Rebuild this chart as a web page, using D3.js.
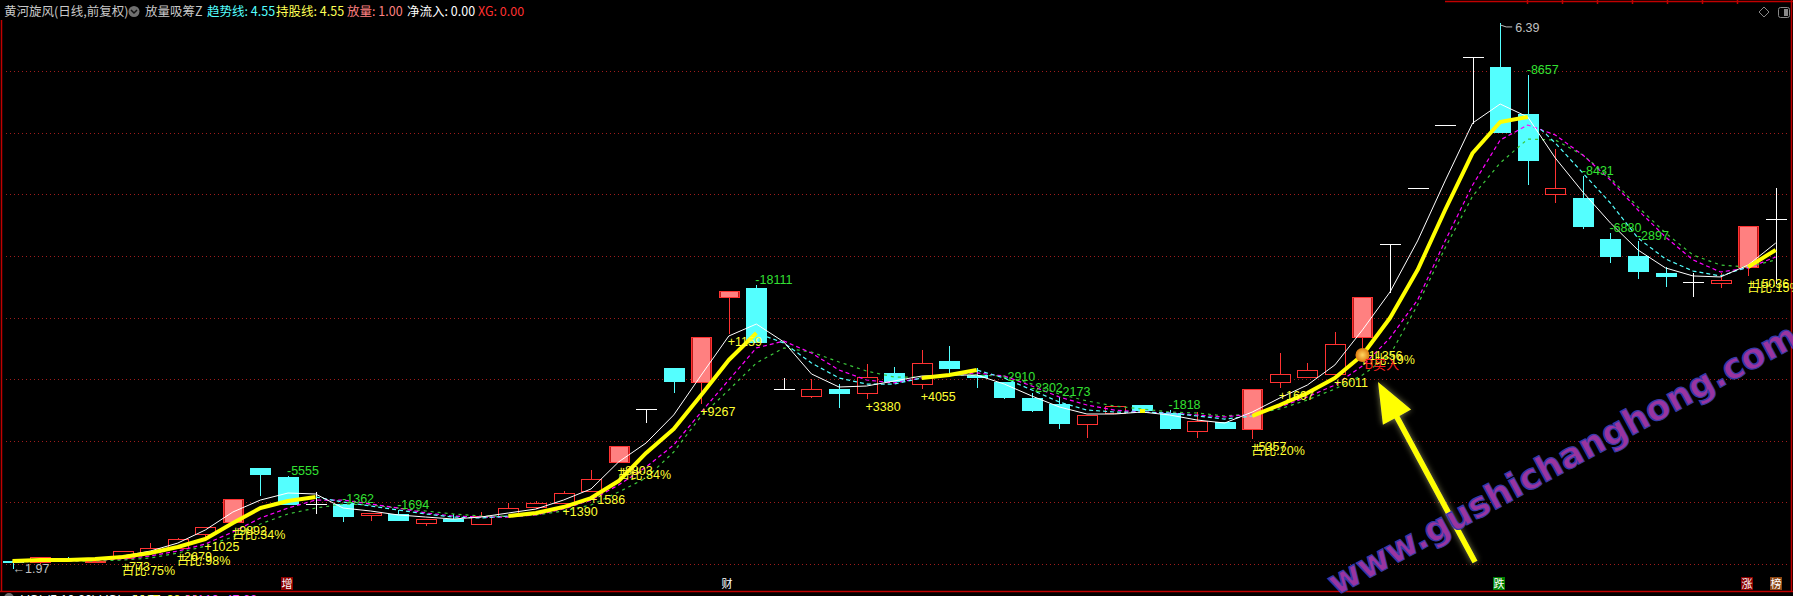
<!DOCTYPE html>
<html><head><meta charset="utf-8">
<script src="https://cdn.jsdelivr.net/npm/d3@7"></script>
<style>html,body{margin:0;padding:0;background:#000;overflow:hidden}</style>
</head><body><svg id="c" width="1793" height="596"></svg>
<script>
// ---------- data ----------
const opens  = [2.024,2.016,2.052,2.020,2.049,2.097,2.130,2.243,2.341,2.779,2.706,2.487,2.487,2.398,2.406,2.333,2.365,2.325,2.389,2.462,2.495,2.592,2.828,3.258,3.590,3.477,4.166,4.239,3.420,3.363,3.420,3.387,3.550,3.460,3.647,3.533,3.477,3.347,3.298,3.136,3.225,3.290,3.225,3.079,3.152,3.095,3.477,3.517,3.542,3.842,4.596,5.051,5.562,6.114,6.032,5.651,5.002,4.970,4.637,4.499,4.361,4.288,4.280,4.410,4.799];
const highs  = [2.030,2.060,2.055,2.030,2.105,2.170,2.210,2.300,2.527,2.779,2.710,2.584,2.487,2.414,2.438,2.365,2.406,2.422,2.495,2.511,2.592,2.763,2.957,3.258,3.590,3.842,4.215,4.264,3.509,3.501,3.460,3.623,3.598,3.736,3.769,3.590,3.477,3.387,3.355,3.209,3.282,3.290,3.250,3.233,3.152,3.420,3.712,3.631,3.882,4.166,4.596,5.051,5.562,6.114,6.390,5.968,5.367,5.148,4.686,4.621,4.410,4.361,4.361,4.742,5.051];
const lows   = [1.970,2.010,2.045,2.020,2.049,2.097,2.130,2.210,2.341,2.560,2.487,2.414,2.349,2.357,2.357,2.316,2.349,2.325,2.389,2.454,2.495,2.592,2.828,3.152,3.396,3.306,3.874,3.801,3.420,3.355,3.274,3.347,3.485,3.428,3.558,3.436,3.347,3.241,3.103,3.030,3.225,3.250,3.095,3.030,3.103,3.022,3.436,3.517,3.542,3.761,4.207,5.051,5.562,5.578,5.505,5.083,4.937,4.726,4.450,4.320,4.256,4.174,4.248,4.345,4.280];
const closes = [2.016,2.057,2.048,2.028,2.105,2.130,2.203,2.300,2.527,2.730,2.487,2.487,2.389,2.414,2.357,2.365,2.349,2.389,2.454,2.495,2.576,2.690,2.957,3.258,3.485,3.842,4.215,3.801,3.420,3.420,3.387,3.517,3.485,3.631,3.590,3.517,3.355,3.250,3.144,3.209,3.282,3.250,3.103,3.160,3.103,3.420,3.542,3.574,3.785,4.166,4.596,5.051,5.562,6.114,5.505,5.278,5.051,4.742,4.499,4.377,4.337,4.288,4.304,4.742,4.799];
const volumeDays = [8,22,25,26,45,49,63];

const whiteLine   = [2.016,2.024,2.032,2.041,2.065,2.105,2.170,2.276,2.422,2.519,2.576,2.568,2.454,2.430,2.398,2.381,2.365,2.381,2.414,2.446,2.519,2.609,2.828,2.982,3.209,3.533,3.850,3.947,3.801,3.542,3.436,3.444,3.485,3.525,3.533,3.533,3.460,3.363,3.274,3.217,3.217,3.233,3.209,3.168,3.144,3.233,3.347,3.452,3.615,3.899,4.207,4.621,5.108,5.578,5.732,5.627,5.294,5.018,4.767,4.548,4.402,4.337,4.329,4.426,4.604];
const trendLine   = [2.024,2.032,2.032,2.041,2.057,2.089,2.138,2.203,2.333,2.454,2.511,2.544,2.503,2.471,2.438,2.406,2.381,2.373,2.389,2.414,2.462,2.535,2.673,2.901,3.095,3.371,3.655,3.874,3.793,3.631,3.509,3.460,3.460,3.509,3.533,3.574,3.509,3.412,3.314,3.249,3.233,3.233,3.225,3.201,3.176,3.201,3.290,3.387,3.509,3.696,3.996,4.385,4.872,5.335,5.586,5.627,5.416,5.172,4.929,4.645,4.475,4.377,4.337,4.410,4.548];
const magentaLine = [2.016,2.024,2.024,2.032,2.041,2.065,2.105,2.162,2.260,2.373,2.454,2.519,2.519,2.487,2.454,2.414,2.389,2.381,2.381,2.398,2.446,2.519,2.641,2.787,2.966,3.233,3.493,3.753,3.809,3.712,3.574,3.493,3.469,3.509,3.533,3.550,3.525,3.444,3.355,3.290,3.249,3.233,3.225,3.209,3.193,3.217,3.274,3.355,3.452,3.607,3.834,4.142,4.621,5.075,5.440,5.562,5.481,5.318,5.116,4.872,4.653,4.467,4.369,4.402,4.491];
const greenLine   = [2.016,2.024,2.024,2.024,2.032,2.049,2.089,2.146,2.219,2.325,2.406,2.454,2.487,2.479,2.454,2.430,2.406,2.389,2.389,2.398,2.430,2.479,2.584,2.698,2.909,3.201,3.412,3.631,3.753,3.720,3.639,3.566,3.517,3.517,3.533,3.533,3.525,3.460,3.379,3.323,3.282,3.258,3.233,3.225,3.201,3.217,3.258,3.331,3.420,3.533,3.696,4.101,4.564,4.986,5.254,5.448,5.440,5.318,5.132,4.897,4.686,4.507,4.426,4.410,4.467];
const holdSegments = [[0,11],[18,27],[33,35],[45,55],[63,64]];

const gridPrices = [2.0,2.5,3.0,3.5,4.0,4.5,5.0,5.5,6.0];

const outflowLabels = [[10,"-5555"],[12,"-1362"],[14,"-1694"],[27,"-18111"],[36,"-2910"],[37,"-2302"],[38,"-2173"],[42,"-1818"],[55,"-8657"],[57,"-8431"],[58,"-6880"],[59,"-2897"]];
const inflowLabels = [[4,"+773","占比:75%"],[6,"+2679","占比:98%"],[7,"+1025",""],[8,"+9892","占比:34%"],[20,"+1390",""],[21,"+1586",""],[22,"+8803","占比:34%"],[25,"+9267",""],[26,"+1159",""],[31,"+3380",""],[33,"+4055",""],[45,"+5357","占比:20%"],[46,"+1697",""],[48,"+6011",""],[49,"+11356","占比:19%"],[63,"+15036","占比:15%"]];
const buyIndex = 49;
const maxIndex = 54, minIndex = 0;

const titleParts = [["黄河旋风(日线,前复权)","#c8c8c8"],["放量吸筹Z","#c8c8c8"],["趋势线: 4.55","#54ffff"],["持股线: 4.55","#ffff54"],["放量: 1.00","#ff8080"],["净流入: 0.00","#ffffff"],["XG: 0.00","#ff3030"]];
const titleX = [4,145,207,276,347,407,478];
const bottomTags = [["增","#8b0000",287],["财","#000000",727],["跌","#008000",1499],["涨","#8b0000",1747],["榜","#8b4513",1776]];

// ---------- drawing ----------
const svg = d3.select("#c");
const W = 1793, H = 596;
svg.append("rect").attr("width",W).attr("height",H).attr("fill","#000");
const defs = svg.append("defs");

const x = d3.scaleLinear().domain([0, opens.length-1]).range([12.5, 1775.7]);
const y = d3.scaleLinear().domain([2,6]).range([564,71]);
const px = v => Math.round(v)+0.5;

// grid
svg.append("g").selectAll("line").data(gridPrices).join("line")
  .attr("x1",6).attr("x2",1790).attr("y1",d=>px(y(d))).attr("y2",d=>px(y(d)))
  .attr("stroke","#a01c1c").attr("stroke-width",1).attr("stroke-dasharray","1,3");

// borders
const border = svg.append("g").attr("stroke","#c00000").attr("stroke-width",1.5);
border.append("line").attr("x1",1.5).attr("x2",1.5).attr("y1",20).attr("y2",591);
border.append("line").attr("x1",1791.5).attr("x2",1791.5).attr("y1",0).attr("y2",591);
border.append("line").attr("x1",0).attr("x2",W).attr("y1",591.5).attr("y2",591.5);
border.append("line").attr("x1",1445).attr("x2",W).attr("y1",1.5).attr("y2",1.5);
[1527,1562,1597,1632,1667,1702,1737].forEach(t=>border.append("line").attr("x1",t+0.5).attr("x2",t+0.5).attr("y1",0).attr("y2",4));

// candles
const idx = d3.range(opens.length);
const cg = svg.append("g");
idx.forEach(i=>{
  const cx = Math.round(x(i));
  const o=opens[i], c=closes[i], h=highs[i], l=lows[i];
  const filled = volumeDays.includes(i);
  const top = Math.round(y(Math.max(o,c))), bot = Math.round(y(Math.min(o,c)));
  const yh = Math.round(y(h)), yl = Math.round(y(l));
  if (Math.abs(o-c) < 1e-9) {
    cg.append("line").attr("x1",cx+0.5).attr("x2",cx+0.5).attr("y1",yh).attr("y2",yl+1).attr("stroke","#fff");
    cg.append("line").attr("x1",cx-10).attr("x2",cx+11).attr("y1",top+0.5).attr("y2",top+0.5).attr("stroke","#fff");
  } else if (c > o) {
    const col = "#ff3232";
    if (yh < top) cg.append("line").attr("x1",cx+0.5).attr("x2",cx+0.5).attr("y1",yh).attr("y2",top).attr("stroke",col);
    if (yl > bot) cg.append("line").attr("x1",cx+0.5).attr("x2",cx+0.5).attr("y1",bot).attr("y2",yl+1).attr("stroke",col);
    cg.append("rect").attr("x",cx-10+0.5).attr("y",top+0.5).attr("width",20).attr("height",Math.max(1,bot-top))
      .attr("fill",filled?"#ff8080":"#000").attr("stroke",col).attr("stroke-width",1);
    if (filled) {
      cg.append("line").attr("x1",cx-8.5).attr("x2",cx-8.5).attr("y1",top+1).attr("y2",bot).attr("stroke","#c01818");
      cg.append("line").attr("x1",cx+9.5).attr("x2",cx+9.5).attr("y1",top+1).attr("y2",bot).attr("stroke","#c01818");
    }
  } else {
    const col = "#54ffff";
    cg.append("line").attr("x1",cx+0.5).attr("x2",cx+0.5).attr("y1",yh).attr("y2",yl+1).attr("stroke",col);
    cg.append("rect").attr("x",cx-10).attr("y",top).attr("width",21).attr("height",Math.max(2,bot-top+1)).attr("fill",col);
  }
});

// lines
function drawSeries(series, color, width, dash, range){
  const ids = range ? d3.range(range[0], range[1]+1) : idx;
  const gen = d3.line().x(i=>x(i)).y(i=>y(series[i]));
  svg.append("path").attr("d",gen(ids)).attr("fill","none").attr("stroke",color)
    .attr("stroke-width",width).attr("stroke-dasharray",dash||null).attr("stroke-linejoin","round");
}
drawSeries(greenLine,"#3cc83c",1.2,"3,4");
drawSeries(magentaLine,"#ff00ff",1.2,"4,3");
drawSeries(trendLine,"#54ffff",1.2,"4,3");
drawSeries(whiteLine,"#ffffff",1);
holdSegments.forEach(s=>drawSeries(trendLine,"#ffff00",4,null,s));

// small marker
svg.append("rect").attr("x",Math.round(x(41))-2).attr("y",409).attr("width",5).attr("height",4).attr("fill","#ffff00");

// labels
const lab = svg.append("g").attr("font-family","'Liberation Sans','Noto Sans CJK SC',sans-serif").attr("font-size",12.5);
outflowLabels.forEach(([i,t])=>{
  lab.append("text").attr("x",x(i)-1).attr("y",y(highs[i])-1).attr("fill","#33e033").text(t);
});
inflowLabels.forEach(([i,t,r])=>{
  lab.append("text").attr("x",x(i)-1).attr("y",y(lows[i])+13).attr("fill","#ffff33").text(t);
  if (r) lab.append("text").attr("x",x(i)-1).attr("y",y(lows[i])+17).attr("fill","#ffff33").text(r);
});

// buy marker
const bx = x(buyIndex), by = y(lows[buyIndex]) + 8;
const grad = defs.append("radialGradient").attr("id","coin");
grad.append("stop").attr("offset","0%").attr("stop-color","#ffd860");
grad.append("stop").attr("offset","100%").attr("stop-color","#e07a10");
svg.append("circle").attr("cx",bx).attr("cy",by).attr("r",7).attr("fill","url(#coin)");
svg.append("text").attr("x",bx+2).attr("y",by+14).attr("fill","#ff2020").attr("font-size",13)
  .attr("font-family","'Noto Sans CJK SC',sans-serif").text("B买入");

// max / min markers
const mx = x(maxIndex), my = y(highs[maxIndex]);
svg.append("path").attr("d",`M${mx},${my+2} l6,2 l6,0`).attr("stroke","#c0c0c0").attr("fill","none");
svg.append("text").attr("x",mx+15).attr("y",my+9).attr("fill","#c0c0c0").attr("font-size",12.5)
  .attr("font-family","'Liberation Sans',sans-serif").text(highs[maxIndex].toFixed(2));
const nx = x(minIndex), ny = y(lows[minIndex]);
svg.append("text").attr("x",nx).attr("y",ny+5).attr("fill","#c0c0c0").attr("font-size",12.5)
  .attr("font-family","'Liberation Sans',sans-serif").text("←" + lows[minIndex].toFixed(2));

// title
const tg = svg.append("g").attr("font-family","'Noto Sans CJK SC',sans-serif").attr("font-size",12.5);
titleParts.forEach(([t,c],k)=>tg.append("text").attr("x",titleX[k]).attr("y",16).attr("fill",c).text(t));
svg.append("circle").attr("cx",134).attr("cy",11.5).attr("r",5.5).attr("fill","#707070");
svg.append("path").attr("d","M131,10 l3,3 l3,-3").attr("stroke","#111").attr("stroke-width",1.5).attr("fill","none");

// top right icons
svg.append("path").attr("d","M1764,7 l5,5 l-5,5 l-5,-5 z").attr("fill","none").attr("stroke","#888");
svg.append("rect").attr("x",1778.5).attr("y",7.5).attr("width",11).attr("height",10).attr("rx",2).attr("fill","none").attr("stroke","#888");
svg.append("rect").attr("x",1784).attr("y",9).attr("width",4).attr("height",7).attr("fill","#888");

// bottom tags
bottomTags.forEach(([t,bg,cx])=>{
  if (bg !== "#000000") svg.append("rect").attr("x",cx-6).attr("y",577).attr("width",12).attr("height",13).attr("fill",bg);
  svg.append("text").attr("x",cx).attr("y",588).attr("text-anchor","middle").attr("fill","#fff")
    .attr("font-size",11).attr("font-family","'Noto Sans CJK SC',sans-serif").text(t);
});

// cropped bottom indicator line
svg.append("circle").attr("cx",9).attr("cy",598).attr("r",5).attr("fill","#707070");
const bt = svg.append("text").attr("y",604).attr("font-size",12.5).attr("font-family","'Liberation Sans',sans-serif");
bt.append("tspan").attr("x",21).attr("fill","#fff").text("VOL(5,10,20) VOL: 36.71");
bt.append("tspan").attr("x",134).attr("fill","#ffff33").text("MA5: 38.26");
bt.append("tspan").attr("x",186).attr("fill","#ff40ff").text("MA10: 47.66");

// arrow
const f = defs.append("filter").attr("id","glow").attr("x","-50%").attr("y","-50%").attr("width","200%").attr("height","200%");
f.append("feGaussianBlur").attr("in","SourceAlpha").attr("stdDeviation",3).attr("result","b");
f.append("feFlood").attr("flood-color","#ffffa0").attr("flood-opacity",0.5);
f.append("feComposite").attr("in2","b").attr("operator","in").attr("result","g");
const fm = f.append("feMerge"); fm.append("feMergeNode").attr("in","g"); fm.append("feMergeNode").attr("in","SourceGraphic");
(function(){
  const tx=1378, ty=382, ex=1475, ey=562;
  const ang = Math.atan2(ey-ty, ex-tx);
  const ux=Math.cos(ang), uy=Math.sin(ang), nxv=-uy, nyv=ux;
  const hl=40, hw=16, sw=2.8;
  const bxp=tx+ux*hl, byp=ty+uy*hl;
  const pts=[[tx,ty],[bxp+nxv*hw,byp+nyv*hw],[bxp+nxv*sw,byp+nyv*sw],[ex+nxv*sw,ey+nyv*sw],[ex-nxv*sw,ey-nyv*sw],[bxp-nxv*sw,byp-nyv*sw],[bxp-nxv*hw,byp-nyv*hw]];
  svg.append("polygon").attr("points",pts.map(p=>p.join(",")).join(" ")).attr("fill","#ffff00").attr("filter","url(#glow)");
})();

// watermark
svg.append("text").attr("transform","translate(1336,596) rotate(-28.5)")
  .attr("font-size",35).attr("font-weight","bold").attr("font-family","'DejaVu Sans',sans-serif")
  .attr("fill","#9a34a0").attr("stroke","#3a3aa8").attr("stroke-width",1.3)
  .text("www.gushichanghong.com");
</script></body></html>
